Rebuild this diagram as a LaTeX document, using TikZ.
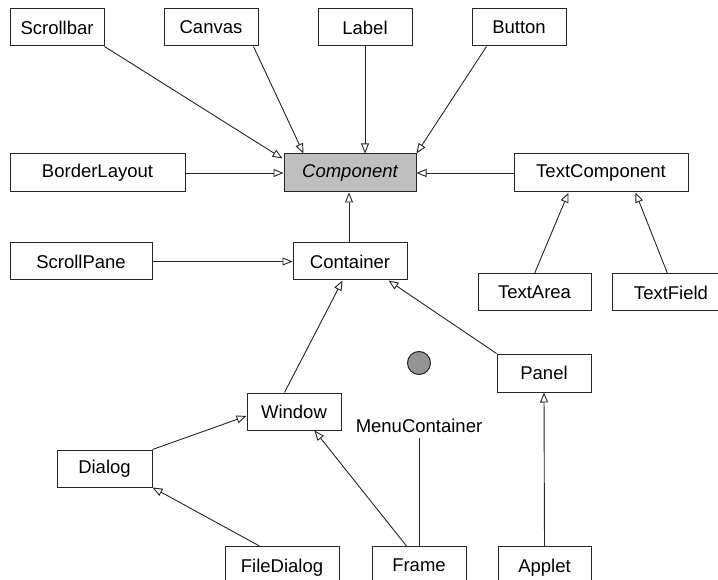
\documentclass[tikz,border=0pt]{standalone}
\usepackage{fontspec}
\setmainfont{Liberation Sans}
\usetikzlibrary{arrows.meta,calc}
\tikzset{
  cls/.style={draw=black!85, line width=1pt, fill=white, inner sep=0pt, minimum height=37pt,
    font=\fontsize{18.5}{20}\selectfont},
  lnk/.style={draw=black!85, line width=0.9pt, -{Triangle[length=10pt,width=8pt,fill=white,line width=0.9pt]}},
  plain/.style={draw=black!85, line width=0.9pt},
}
\begin{document}
\begin{tikzpicture}[x=1pt,y=-1pt]
\useasboundingbox (0,0) rectangle (718,580);
\clip (0,0) rectangle (718,580);
% nodes
\node[cls, minimum width=94pt] (scrollbar) at (57,27.5) {Scrollbar};
\node[cls, minimum width=94pt] (canvas) at (211,27.5) {Canvas};
\node[cls, minimum width=94pt] (label) at (365,27.5) {Label};
\node[cls, minimum width=94pt] (button) at (519,27.5) {Button};
\node[cls, minimum width=175pt, minimum height=38pt] (border) at (97.5,173) {BorderLayout};
\node[cls, minimum width=132pt, minimum height=38pt, fill=black!25] (component) at (350,173) {\itshape Component};
\node[cls, minimum width=174pt, minimum height=38pt] (textcomp) at (601,173) {TextComponent};
\node[cls, minimum width=142pt] (scrollpane) at (81,261.5) {ScrollPane};
\node[cls, minimum width=114pt] (container) at (350,261.5) {Container};
\node[cls, minimum width=113pt] (textarea) at (534.5,292.5) {TextArea};
\node[cls, minimum width=118pt, text width=105pt, align=center] (textfield) at (671,292.5) {TextField};
\node[cls, minimum width=94pt, minimum height=38pt] (panel) at (544,373) {Panel};
\node[cls, minimum width=94pt] (window) at (294,411.5) {Window};
\node[cls, minimum width=95pt] (dialog) at (104.5,468.5) {Dialog};
\node[font=\fontsize{18.5}{20}\selectfont, inner sep=0pt, minimum height=24pt] (menucont) at (419,426) {MenuContainer};
\node[cls, minimum width=114pt, minimum height=60pt, anchor=north] (filedialog) at (282,546) {\raisebox{22pt}{FileDialog}};
\node[cls, minimum width=94pt, minimum height=60pt, anchor=north] (frame) at (419,546) {\raisebox{22pt}{Frame}};
\node[cls, minimum width=93pt, minimum height=60pt, anchor=north] (applet) at (544.5,546) {\raisebox{22pt}{Applet}};
\node[circle, draw=black!85, line width=1pt, fill=black!42, minimum size=23pt, inner sep=0pt] (dot) at (419,363) {};
% connectors
\draw[lnk] (scrollbar.south east) -- ($(component.north west)+(-1,5)$);
\draw[lnk] ($(canvas.south east)+(-5,0)$) -- ($(component.north west)+(20,0)$);
\draw[lnk] (label.south) -- (label.south |- component.north);
\draw[lnk] ($(button.south west)+(15,0)$) -- (component.north east);
\draw[lnk] (border.east) -- (component.west);
\draw[lnk] (textcomp.west) -- (component.east);
\draw[lnk] (container.north -| 349,0) -- (component.south -| 349,0);
\draw[lnk] (scrollpane.east) -- (container.west);
\draw[lnk] (textarea.north) -- ($(textcomp.south west)+(55,0)$);
\draw[lnk] ($(textfield.north west)+(56,0)$) -- ($(textcomp.south west)+(122,0)$);
\draw[lnk] ($(window.north west)+(38,0)$) -- ($(container.south west)+(50,0)$);
\draw[lnk] (panel.north west) -- ($(container.south west)+(96,0)$);
\draw[lnk] (dialog.north east) -- ($(window.west)+(0,4.5)$);
\draw[lnk] ($(filedialog.north west)+(35,0)$) -- (dialog.south east);
\draw[lnk] ($(frame.north west)+(35,0)$) -- ($(window.south west)+(68,0)$);
\draw[plain] (menucont.south) -- (frame.north);
\draw[lnk] (applet.north) -- (panel.south);
\end{tikzpicture}
\end{document}
